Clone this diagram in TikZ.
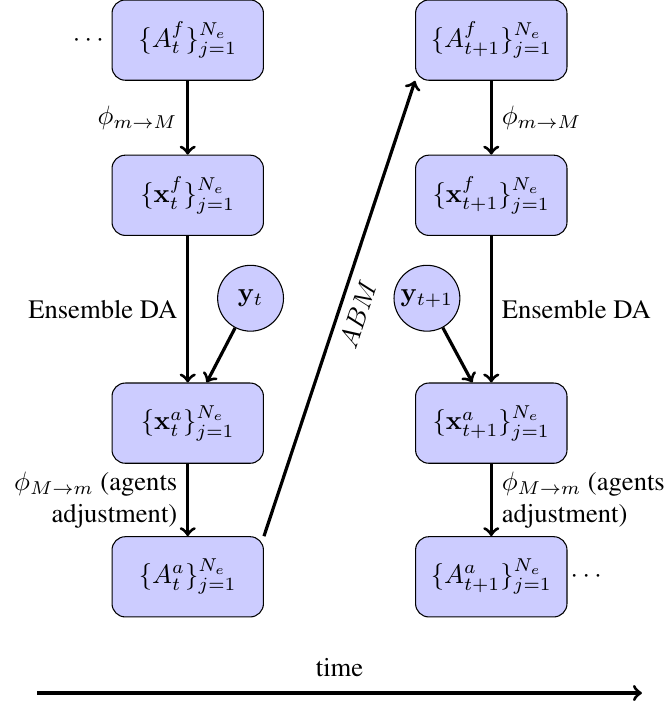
\documentclass[tikz,border=0pt]{standalone}
\usepackage{amsmath, amssymb}
\usepackage[T1]{fontenc}
\renewcommand{\rmdefault}{ptm}
\usepackage{xcolor}
\usepackage{tikz}
\usetikzlibrary{calc}

\begin{document}
\begin{tikzpicture}[
    ensbox/.style={draw=black, fill=blue!20, rounded corners=5pt, minimum width=2cm, minimum height=1.06cm},
    obscirc/.style={draw=black, fill=blue!20, circle, minimum size=0.87cm, inner sep=0pt},
    flow/.style={->, very thick}
]
    \useasboundingbox (0,0) rectangle (8.824,-9.353);

    % Ensemble at time t
    \node[ensbox] (Aft) at (2.48,-0.53) {$\{A_t^f\}_{j=1}^{N_e}$};
    \node[ensbox] (xft) at (2.48,-2.58) {$\{\mathbf{x}_t^f\}_{j=1}^{N_e}$};
    \node[ensbox] (xat) at (2.48,-5.59) {$\{\mathbf{x}_t^a\}_{j=1}^{N_e}$};
    \node[ensbox] (Aat) at (2.48,-7.62) {$\{A_t^a\}_{j=1}^{N_e}$};
    \node[obscirc] (yt) at (3.31,-3.94) {$\mathbf{y}_t$};
    \node[left, inner sep=1pt] (dotsl) at (Aft.west) {$\cdots$};

    % Ensemble at time t+1
    \node[ensbox] (Aftn) at (6.49,-0.53) {$\{A_{t+1}^f\}_{j=1}^{N_e}$};
    \node[ensbox] (xftn) at (6.49,-2.58) {$\{\mathbf{x}_{t+1}^f\}_{j=1}^{N_e}$};
    \node[ensbox] (xatn) at (6.49,-5.59) {$\{\mathbf{x}_{t+1}^a\}_{j=1}^{N_e}$};
    \node[ensbox] (Aatn) at (6.49,-7.62) {$\{A_{t+1}^a\}_{j=1}^{N_e}$};
    \node[obscirc] (ytn) at (5.64,-3.94) {$\mathbf{y}_{t+1}$};
    \node[right, inner sep=1pt] (dotsr) at (Aatn.east) {$\cdots$};

    % Steps at time t
    \draw[flow] (Aft) -- node[midway, left] {$\phi_{m\to M}$} (xft);
    \draw[flow] (xft) -- node[midway, left] {Ensemble DA} (xat);
    \draw[flow] (yt) -- ([xshift=0.25cm]xat.north);
    \draw[flow] (xat) -- node[midway, left, align=right] {$\phi_{M\to m}$ (agents\\adjustment)} (Aat);

    % Model run
    \draw[flow] (Aat.north east) -- node[midway, below, sloped] {$ABM$} (Aftn.south west);

    % Steps at time t+1
    \draw[flow] (Aftn) -- node[midway, right] {$\phi_{m\to M}$} (xftn);
    \draw[flow] (xftn) -- node[midway, right] {Ensemble DA} (xatn);
    \draw[flow] (ytn) -- ([xshift=-0.25cm]xatn.north);
    \draw[flow] (xatn) -- node[midway, right, align=left] {$\phi_{M\to m}$ (agents\\adjustment)} (Aatn);

    % Time axis
    \coordinate (tstart) at (0.49,-9.155);
    \coordinate (tend) at (8.48,-9.155);
    \draw[flow] (tstart) -- node[midway, above=2pt] {time} (tend);
\end{tikzpicture}
\end{document}
